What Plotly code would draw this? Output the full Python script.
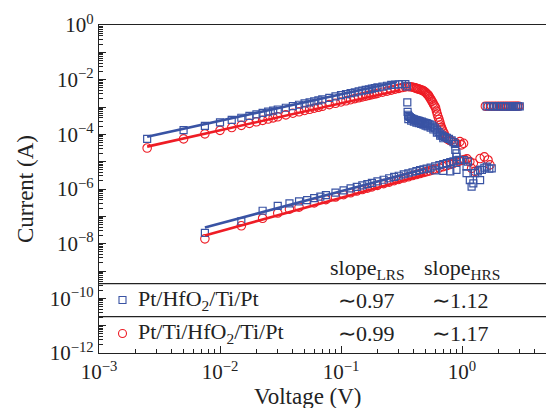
import plotly.graph_objects as go

# ---------------- data ----------------
# Pt/HfO2/Ti/Pt (blue squares)
blue_lrs_v = [0.0025, 0.005, 0.0075, 0.01, 0.0125, 0.015, 0.0175, 0.02, 0.0225, 0.025, 0.0275, 0.03,
              0.035, 0.04, 0.045, 0.05, 0.055, 0.06, 0.065, 0.07, 0.08, 0.09, 0.1, 0.11, 0.12, 0.13,
              0.14, 0.15, 0.16, 0.17, 0.18, 0.19, 0.2, 0.22, 0.24, 0.26, 0.28, 0.30, 0.32, 0.34, 0.35]
blue_lrs_i = [6.8e-5, 1.42e-4, 2.05e-4, 2.72e-4, 3.4e-4, 4.05e-4, 4.7e-4, 5.4e-4, 6.1e-4, 6.75e-4, 7.4e-4, 8.1e-4,
              9.4e-4, 1.08e-3, 1.21e-3, 1.35e-3, 1.48e-3, 1.62e-3, 1.75e-3, 1.89e-3, 2.16e-3, 2.43e-3, 2.7e-3,
              2.96e-3, 3.2e-3, 3.45e-3, 3.7e-3, 3.95e-3, 4.2e-3, 4.45e-3, 4.7e-3, 4.95e-3, 5.2e-3, 5.6e-3,
              6.0e-3, 6.4e-3, 6.6e-3, 6.8e-3, 6.9e-3, 6.9e-3, 5.7e-3]
blue_reset_v = [0.353, 0.355, 0.358, 0.362, 0.37, 0.38, 0.39, 0.40, 0.41, 0.42, 0.43, 0.44, 0.45, 0.465,
                0.48, 0.495, 0.51, 0.525, 0.54, 0.56, 0.58, 0.60, 0.62, 0.64, 0.66, 0.68, 0.70, 0.72, 0.75,
                0.78, 0.82, 0.85, 0.875,
                0.36, 0.38, 0.40, 0.42, 0.44, 0.46, 0.48, 0.50, 0.52, 0.55, 0.58, 0.62, 0.66, 0.70,
                0.88, 0.90, 0.90, 0.96, 1.03, 1.09, 1.09, 1.12, 1.16, 1.2, 1.24, 1.28, 1.35, 1.41, 1.41,
                1.46, 1.53, 1.6, 1.68, 1.76]
blue_reset_i = [1.48e-3, 6.6e-4, 5.2e-4, 4.6e-4, 4.3e-4, 3.9e-4, 3.7e-4, 3.55e-4, 3.4e-4, 3.3e-4, 3.2e-4, 3.1e-4,
                3.0e-4, 2.9e-4, 2.75e-4, 2.65e-4, 2.55e-4, 2.4e-4, 2.3e-4, 2.15e-4, 1.9e-4, 1.65e-4, 1.4e-4,
                1.2e-4, 1.05e-4, 9.2e-5, 8.5e-5, 8.0e-5, 7.5e-5, 6.8e-5, 6.0e-5, 5.2e-5, 4.5e-5,
                3.6e-4, 3.2e-4, 2.9e-4, 2.7e-4, 2.55e-4, 2.4e-4, 2.25e-4, 2.1e-4, 1.95e-4, 1.75e-4, 1.5e-4,
                1.15e-4, 9.0e-5, 7.2e-5,
                2.7e-5, 2.0e-5, 1.5e-5, 1.15e-5, 1.15e-5, 6.6e-6, 3.8e-6, 1.0e-5, 2.1e-6, 1.23e-6, 1.6e-6,
                3.8e-6, 4.4e-6, 2.1e-6, 5.0e-6, 5.0e-6, 6.0e-6, 6.6e-6, 5.5e-6, 5.7e-6]
blue_hrs_v = [0.0075, 0.015, 0.0225, 0.03, 0.0375, 0.045, 0.0525, 0.06, 0.0675, 0.075, 0.09, 0.105, 0.12,
              0.135, 0.15, 0.165, 0.18, 0.2, 0.225, 0.25, 0.275, 0.3, 0.33, 0.36, 0.39, 0.42, 0.45, 0.48,
              0.51, 0.55, 0.6, 0.65, 0.7, 0.75, 0.8, 0.85, 0.9, 0.95, 0.6, 0.7, 0.8, 0.9]
blue_hrs_i = [2.5e-8, 6.5e-8, 1.6e-7, 2.4e-7, 3.0e-7, 3.5e-7, 3.9e-7, 4.6e-7, 5.3e-7, 6.0e-7, 7.4e-7, 8.9e-7,
              1.05e-6, 1.2e-6, 1.35e-6, 1.5e-6, 1.67e-6, 1.9e-6, 2.18e-6, 2.47e-6, 2.76e-6, 3.05e-6, 3.4e-6,
              3.75e-6, 4.1e-6, 4.5e-6, 4.9e-6, 5.2e-6, 5.6e-6, 6.1e-6, 6.8e-6, 7.5e-6, 8.2e-6, 8.9e-6,
              9.6e-6, 1.02e-5, 1.1e-5, 1.17e-5, 4.8e-6, 4.6e-6, 4.4e-6, 5.0e-6]
blue_set_v = [1.6, 1.7, 1.8, 1.9, 2.0, 2.1, 2.2, 2.3, 2.4, 2.5, 2.6, 2.7, 2.8, 2.9, 3.0]
blue_set_i = [1.05e-3, 1.05e-3, 1.05e-3, 1.05e-3, 1.05e-3, 1.05e-3, 1.05e-3, 1.05e-3, 1.05e-3, 1.05e-3,
              1.05e-3, 1.05e-3, 1.05e-3, 1.05e-3, 1.05e-3]

# Pt/Ti/HfO2/Ti/Pt (red circles)
red_lrs_v = [0.0025, 0.005, 0.0075, 0.01, 0.0125, 0.015, 0.0175, 0.02, 0.0225, 0.025, 0.0275, 0.03,
             0.035, 0.04, 0.045, 0.05, 0.055, 0.06, 0.065, 0.07, 0.08, 0.09, 0.1, 0.11, 0.12, 0.13,
             0.14, 0.15, 0.16, 0.17, 0.18, 0.19, 0.2, 0.22, 0.24, 0.26, 0.28, 0.30, 0.32, 0.34]
red_lrs_i = [3.16e-5, 6.8e-5, 1.04e-4, 1.40e-4, 1.77e-4, 2.13e-4, 2.51e-4, 2.88e-4, 3.25e-4, 3.63e-4, 4.01e-4,
             4.39e-4, 5.15e-4, 5.92e-4, 6.68e-4, 7.46e-4, 8.24e-4, 9.02e-4, 9.8e-4, 1.06e-3, 1.22e-3, 1.37e-3,
             1.53e-3, 1.69e-3, 1.85e-3, 2.02e-3, 2.18e-3, 2.34e-3, 2.50e-3, 2.66e-3, 2.82e-3, 2.99e-3, 3.15e-3,
             3.48e-3, 3.81e-3, 4.15e-3, 4.48e-3, 4.81e-3, 5.14e-3, 5.47e-3]
red_reset_v = [0.36, 0.372, 0.385, 0.40, 0.41, 0.42, 0.43, 0.44, 0.45, 0.46, 0.47, 0.48, 0.49, 0.50, 0.51,
               0.52, 0.527, 0.535, 0.545, 0.555, 0.565, 0.575, 0.585, 0.595, 0.605, 0.615, 0.625, 0.635,
               0.645, 0.655, 0.665, 0.675, 0.685, 0.695, 0.71, 0.73, 0.746, 0.77, 0.80, 0.85, 0.90, 0.96,
               0.99, 1.03, 1.16, 1.2, 1.24, 1.28, 1.41, 1.53, 1.64, 1.7]
red_reset_i = [5.6e-3, 5.5e-3, 5.4e-3, 5.2e-3, 5.0e-3, 4.8e-3, 4.65e-3, 4.5e-3, 4.35e-3, 4.2e-3, 4.05e-3, 3.9e-3,
               3.65e-3, 3.4e-3, 3.1e-3, 2.85e-3, 2.7e-3, 2.4e-3, 2.1e-3, 1.85e-3, 1.6e-3, 1.4e-3, 1.2e-3,
               1.08e-3, 9.2e-4, 7.0e-4, 5.4e-4, 4.3e-4, 3.5e-4, 2.8e-4, 2.2e-4, 1.8e-4, 1.55e-4, 1.32e-4,
               1.1e-4, 8.5e-5, 7.1e-5, 6.4e-5, 5.9e-5, 5.2e-5, 4.7e-5, 5.4e-5, 4.1e-5, 4.7e-5, 1.0e-5,
               5.7e-6, 8.7e-6, 4.4e-6, 1.3e-5, 1.5e-5, 1.15e-5, 7.6e-6]
red_hrs_v = [0.0075, 0.015, 0.0225, 0.03, 0.0375, 0.045, 0.06, 0.075, 0.09, 0.105, 0.12, 0.135, 0.15,
             0.165, 0.18, 0.2, 0.225, 0.25, 0.275, 0.3, 0.33, 0.36, 0.39, 0.42, 0.45, 0.48, 0.51, 0.54,
             0.57, 0.6, 0.65, 0.7, 0.75, 0.8, 0.85, 0.9, 0.95, 1.0, 1.05, 1.1]
red_hrs_i = [1.5e-8, 4.5e-8, 8.5e-8, 1.32e-7, 1.82e-7, 2.17e-7, 3.1e-7, 4.07e-7, 5.1e-7, 6.17e-7, 7.26e-7,
             8.4e-7, 9.55e-7, 1.07e-6, 1.19e-6, 1.36e-6, 1.57e-6, 1.79e-6, 2.01e-6, 2.24e-6, 2.52e-6, 2.8e-6,
             3.1e-6, 3.39e-6, 3.69e-6, 3.99e-6, 4.31e-6, 4.62e-6, 5.0e-6, 5.37e-6, 5.9e-6, 6.6e-6, 7.2e-6,
             7.9e-6, 8.7e-6, 9.5e-6, 1.05e-5, 1.12e-5, 1.2e-5, 1.26e-5]
red_set_v = [1.56, 1.65, 1.75, 1.85, 1.95, 2.05, 2.15, 2.25, 2.35, 2.45, 2.55, 2.65, 2.75, 2.85, 2.95]
red_set_i = [1.07e-3, 1.07e-3, 1.07e-3, 1.07e-3, 1.07e-3, 1.07e-3, 1.07e-3, 1.07e-3, 1.07e-3, 1.07e-3,
             1.07e-3, 1.07e-3, 1.07e-3, 1.07e-3, 1.07e-3]

# linear fits (log-log)
blue_fit_lrs_v = [0.0025, 0.29]
blue_fit_lrs_i = [8.1e-5, 8.2e-3]
blue_fit_hrs_v = [0.0075, 0.5]
blue_fit_hrs_i = [3.9e-8, 5.5e-6]
red_fit_lrs_v = [0.0025, 0.31]
red_fit_lrs_i = [3.55e-5, 4.2e-3]
red_fit_hrs_v = [0.0075, 0.5]
red_fit_hrs_i = [2.0e-8, 3.4e-6]

# table text
series_names = ["Pt/HfO<sub>2</sub>/Ti/Pt", "Pt/Ti/HfO<sub>2</sub>/Ti/Pt"]
slope_lrs = ["∼0.97", "∼0.99"]
slope_hrs = ["∼1.12", "∼1.17"]

x_tick_vals = [1e-3, 1e-2, 1e-1, 1]
x_tick_text = ["10<sup>−3</sup>", "10<sup>−2</sup>", "10<sup>−1</sup>", "10<sup>0</sup>"]
y_tick_vals = [10.0 ** (-k) for k in range(0, 13)]
y_tick_text = ["10<sup>0</sup>", "", "10<sup>−2</sup>", "", "10<sup>−4</sup>", "", "10<sup>−6</sup>", "",
               "10<sup>−8</sup>", "", "10<sup>−10</sup>", "", "10<sup>−12</sup>"]

BLUE = "#3953a4"
RED = "#ee1c25"
INK = "#222222"
FONT = "Liberation Serif"

fig = go.Figure()

red_v = red_lrs_v + red_reset_v + red_hrs_v + red_set_v
red_i = red_lrs_i + red_reset_i + red_hrs_i + red_set_i
blue_v = blue_lrs_v + blue_reset_v + blue_hrs_v + blue_set_v
blue_i = blue_lrs_i + blue_reset_i + blue_hrs_i + blue_set_i

fig.add_trace(go.Scatter(x=red_v, y=red_i, mode="markers", name=series_names[1],
                         marker=dict(symbol="circle-open", size=8.5, color=RED, line=dict(width=1.1, color=RED))))
fig.add_trace(go.Scatter(x=blue_v, y=blue_i, mode="markers", name=series_names[0],
                         marker=dict(symbol="square-open", size=7, color=BLUE, line=dict(width=1.2, color=BLUE))))
fig.add_trace(go.Scatter(x=blue_fit_lrs_v + [None] + blue_fit_hrs_v, y=blue_fit_lrs_i + [None] + blue_fit_hrs_i,
                         mode="lines", line=dict(color=BLUE, width=2.6), showlegend=False))
fig.add_trace(go.Scatter(x=red_fit_lrs_v + [None] + red_fit_hrs_v, y=red_fit_lrs_i + [None] + red_fit_hrs_i,
                         mode="lines", line=dict(color=RED, width=2.6), showlegend=False))

L, T, W, H = 99, 25, 447, 328


def px(xp):
    return (xp - L) / W


def py(yp):
    return (T + H - yp) / H


axis_common = dict(type="log", showline=True, linecolor=INK, linewidth=1.3, ticks="inside", ticklen=7,
                   tickwidth=1.1, tickcolor=INK, showgrid=False, zeroline=False,
                   tickfont=dict(family=FONT, size=21, color=INK),
                   minor=dict(ticks="inside", ticklen=4, tickwidth=0.9, tickcolor=INK, dtick="D1", showgrid=False))

fig.update_xaxes(range=[-3, 0.694], tickmode="array", tickvals=x_tick_vals, ticktext=x_tick_text,
                 mirror=True, **axis_common)
fig.update_yaxes(range=[-12, 0], tickmode="array", tickvals=y_tick_vals, ticktext=y_tick_text,
                 mirror=False, **axis_common)

ann = []
tf = dict(family=FONT, size=22, color=INK)
ann.append(dict(text="Voltage (V)", x=px(308), y=py(396), xref="paper", yref="paper", showarrow=False,
                xanchor="center", yanchor="middle", font=dict(family=FONT, size=23, color=INK)))
ann.append(dict(text="Current (A)", x=px(25), y=py(189), xref="paper", yref="paper", showarrow=False,
                textangle=-90, xanchor="center", yanchor="middle", font=dict(family=FONT, size=23, color=INK)))
ann.append(dict(text="slope<sub>LRS</sub>", x=px(367), y=py(269), xref="paper", yref="paper", showarrow=False,
                xanchor="center", yanchor="middle", font=tf))
ann.append(dict(text="slope<sub>HRS</sub>", x=px(462), y=py(269), xref="paper", yref="paper", showarrow=False,
                xanchor="center", yanchor="middle", font=tf))
row_y = [300, 333]
for k in range(2):
    ann.append(dict(text=series_names[k], x=px(136), y=py(row_y[k]), xref="paper", yref="paper",
                    showarrow=False, xanchor="left", yanchor="middle", font=tf))
    ann.append(dict(text=slope_lrs[k], x=px(366), y=py(row_y[k]), xref="paper", yref="paper",
                    showarrow=False, xanchor="center", yanchor="middle", font=tf))
    ann.append(dict(text=slope_hrs[k], x=px(460), y=py(row_y[k]), xref="paper", yref="paper",
                    showarrow=False, xanchor="center", yanchor="middle", font=tf))

shapes = [
    dict(type="line", xref="paper", yref="paper", x0=0, x1=1, y0=py(283.7), y1=py(283.7),
         line=dict(color=INK, width=1.2)),
    dict(type="line", xref="paper", yref="paper", x0=0, x1=1, y0=py(316.7), y1=py(316.7),
         line=dict(color=INK, width=1.2)),
    dict(type="rect", xref="paper", yref="paper", xsizemode="pixel", ysizemode="pixel",
         xanchor=px(122.5), yanchor=py(300), x0=-3.5, x1=3.5, y0=-3.5, y1=3.5,
         line=dict(color=BLUE, width=1.1)),
    dict(type="circle", xref="paper", yref="paper", xsizemode="pixel", ysizemode="pixel",
         xanchor=px(122.5), yanchor=py(333.5), x0=-4, x1=4, y0=-4, y1=4,
         line=dict(color=RED, width=1.1)),
]

fig.update_layout(width=546, height=408, margin=dict(l=L, r=0, t=T, b=408 - T - H),
                  plot_bgcolor="white", paper_bgcolor="white", showlegend=False,
                  font=dict(family=FONT, color=INK), annotations=ann, shapes=shapes)

fig.write_html("out.html")
